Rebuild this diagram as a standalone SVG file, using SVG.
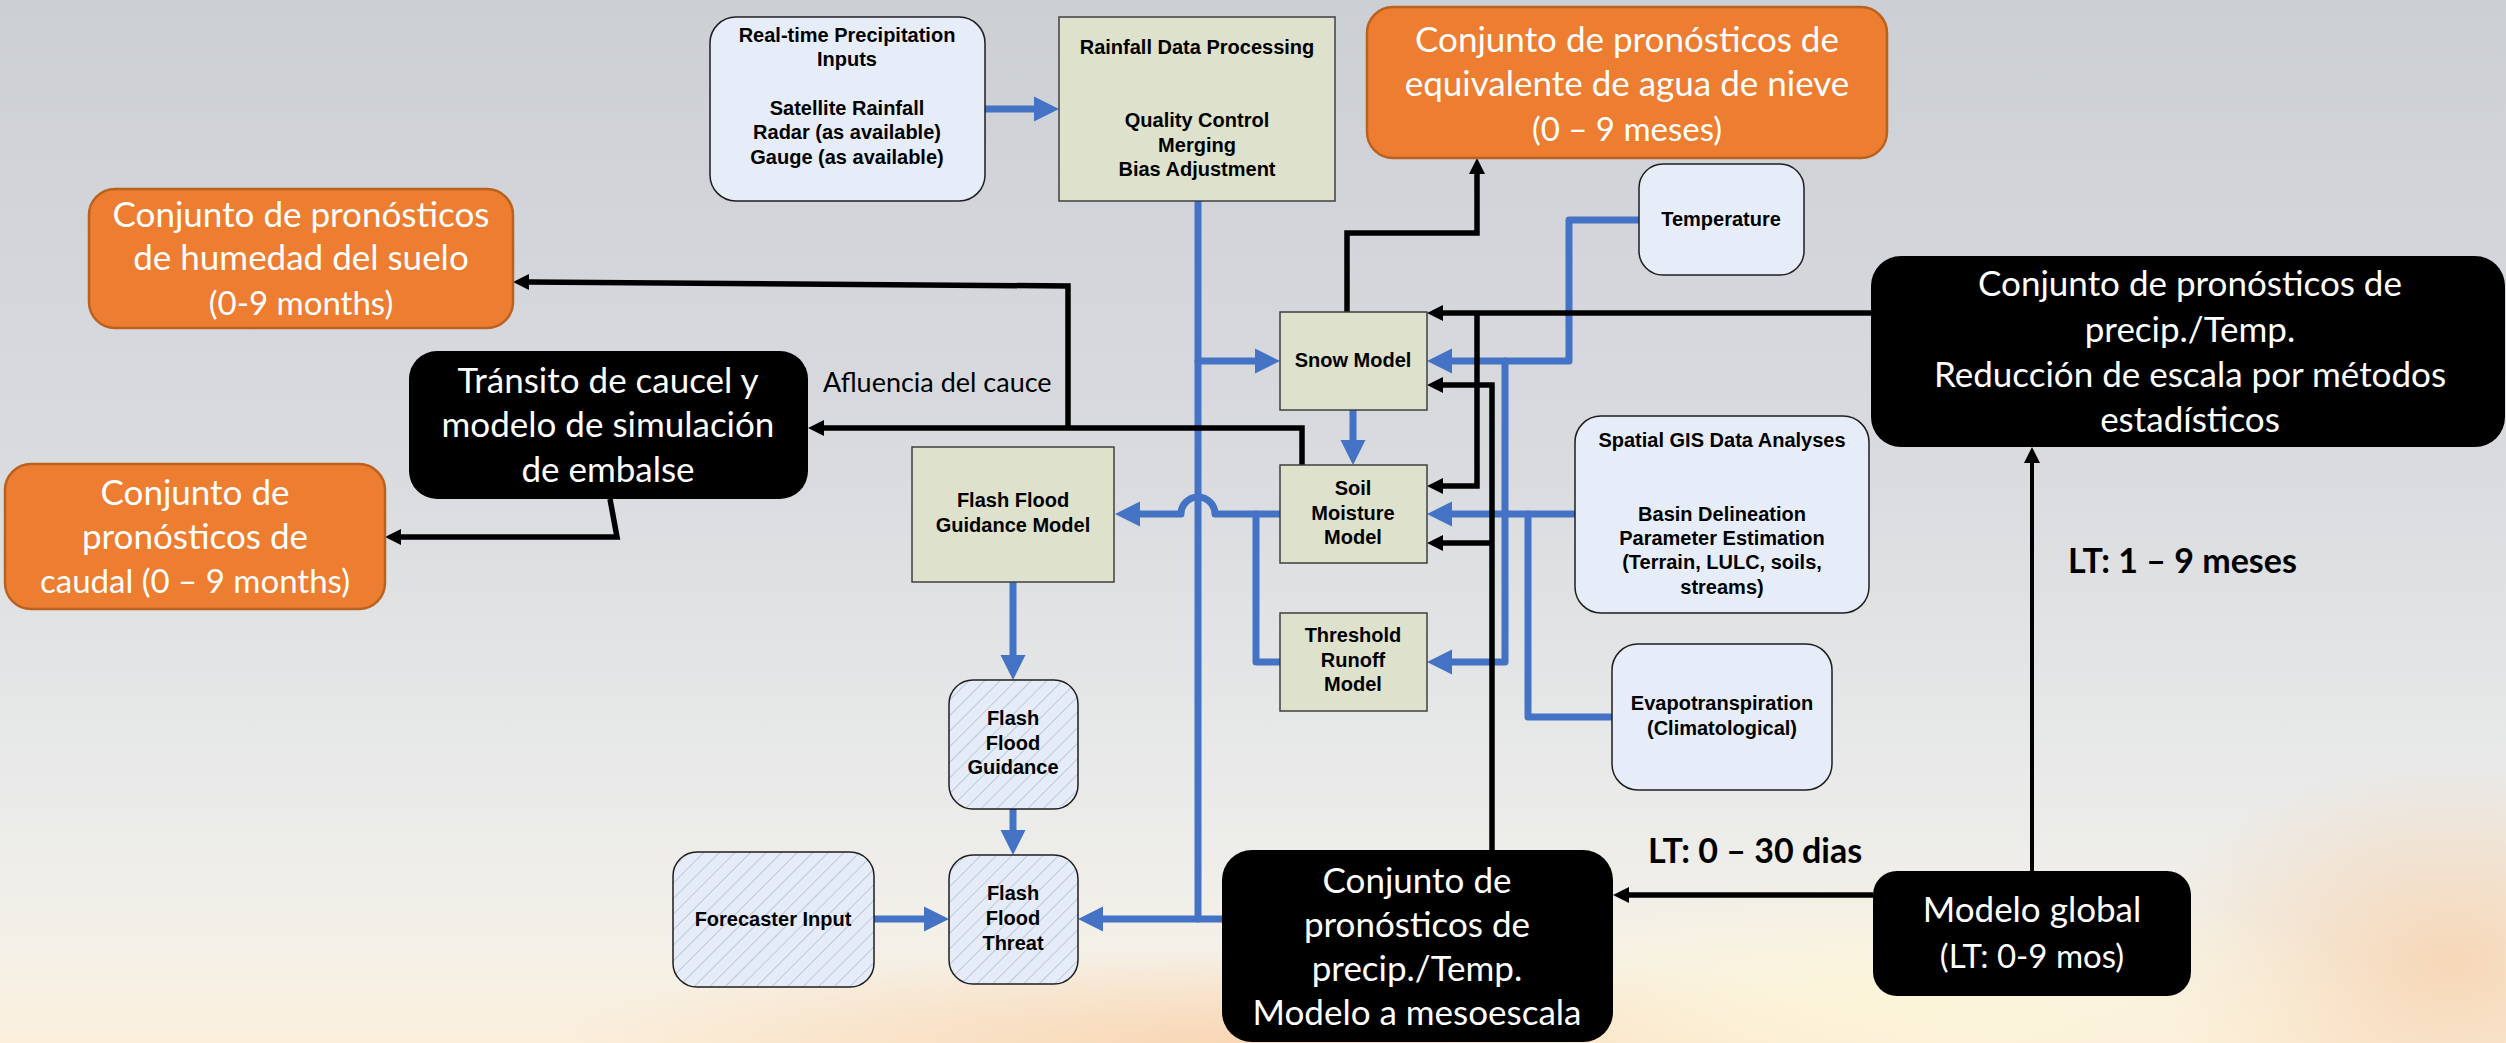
<svg xmlns="http://www.w3.org/2000/svg" width="2506" height="1043" viewBox="0 0 2506 1043">
<defs>
<linearGradient id="bg" x1="0" y1="0" x2="0" y2="1">
<stop offset="0" stop-color="#cccfd4"/>
<stop offset="0.45" stop-color="#d9dbdf"/>
<stop offset="0.75" stop-color="#e9eae9"/>
<stop offset="0.9" stop-color="#f3f0e8"/>
<stop offset="1" stop-color="#fbefdc"/>
</linearGradient>
<radialGradient id="glow1" cx="0.5" cy="0.5" r="0.5">
<stop offset="0" stop-color="#f7cfa8" stop-opacity="0.75"/>
<stop offset="1" stop-color="#f7cfa8" stop-opacity="0"/>
</radialGradient>
<radialGradient id="glow2" cx="0.5" cy="0.5" r="0.5">
<stop offset="0" stop-color="#fdf5d8" stop-opacity="0.9"/>
<stop offset="1" stop-color="#fdf5d8" stop-opacity="0"/>
</radialGradient>
<pattern id="hatch" patternUnits="userSpaceOnUse" width="11" height="11" patternTransform="rotate(45)">
<rect width="11" height="11" fill="#e6ecf7"/>
<line x1="0" y1="0" x2="0" y2="11" stroke="#a9b9d4" stroke-width="1.4"/>
</pattern>
<marker id="ab" markerUnits="userSpaceOnUse" viewBox="0 -13 26 26" markerWidth="26" markerHeight="26" refX="0" refY="0" orient="auto">
<path d="M0,-12.5 L25,0 L0,12.5 z" fill="#4472c4"/>
</marker>
<marker id="ak" markerUnits="userSpaceOnUse" viewBox="0 -9 17 18" markerWidth="17" markerHeight="18" refX="0" refY="0" orient="auto">
<path d="M0,-8 L16,0 L0,8 z" fill="#000"/>
</marker>
</defs>
<style>
.olive{fill:#dee2cd;stroke:#3f3f3f;stroke-width:1.5}
.lb{fill:#e7edf8;stroke:#1e1e1e;stroke-width:1.5}
.hb{fill:url(#hatch);stroke:#1e1e1e;stroke-width:1.5}
.or{fill:#ed7d31;stroke:#b9611f;stroke-width:2.5}
.bk{fill:#000}
.t{font-family:"Liberation Sans",Arial,sans-serif;font-weight:bold;font-size:20px;fill:#000;text-anchor:middle}
.w{font-family:Lato,"Liberation Sans",sans-serif;font-size:35px;fill:#fff;text-anchor:middle}
.n{font-size:33px}
.lab{font-family:Lato,"Liberation Sans",sans-serif;font-size:27px;fill:#000}
.lt{font-family:Lato,"Liberation Sans",sans-serif;font-size:34px;font-weight:bold;fill:#000}
.blue{fill:none;stroke:#4472c4;stroke-width:7;stroke-linecap:round;stroke-linejoin:round}
.blk{fill:none;stroke:#000;stroke-width:5.5;stroke-linejoin:miter}
</style>
<rect width="2506" height="1043" fill="url(#bg)"/>
<ellipse cx="1250" cy="1040" rx="700" ry="90" fill="url(#glow1)"/>
<ellipse cx="2450" cy="960" rx="300" ry="200" fill="url(#glow1)"/>
<ellipse cx="1900" cy="1000" rx="500" ry="120" fill="url(#glow2)"/>

<g id="connectors">
<path class="blue" d="M985,109 L1034,109" marker-end="url(#ab)"/>
<path class="blue" d="M1198,201 L1198,919"/>
<path class="blue" d="M1222,919 L1103,919" marker-end="url(#ab)"/>
<path class="blue" d="M1198,361 L1255,361" marker-end="url(#ab)"/>
<path class="blue" d="M1280,514 L1215,514 A17,17 0 0 0 1181,514 L1140,514" marker-end="url(#ab)"/>
<path class="blue" d="M1280,662 L1256,662 L1256,514"/>
<path class="blue" d="M1353,410 L1353,440" marker-end="url(#ab)"/>
<path class="blue" d="M1013,582 L1013,655" marker-end="url(#ab)"/>
<path class="blue" d="M1013,809 L1013,830" marker-end="url(#ab)"/>
<path class="blue" d="M874,919 L924,919" marker-end="url(#ab)"/>
<path class="blue" d="M1639,220 L1569,220 L1569,361 L1452,361" marker-end="url(#ab)"/>
<path class="blue" d="M1505,361 L1505,662 L1452,662" marker-end="url(#ab)"/>
<path class="blue" d="M1575,514 L1452,514" marker-end="url(#ab)"/>
<path class="blue" d="M1612,717 L1528,717 L1528,514"/>
<path class="blk" d="M1347,312 L1347,233 L1477,233 L1477,174" marker-end="url(#ak)"/>
<path class="blk" d="M1068,428 L1068,286 L529,282" marker-end="url(#ak)"/>
<path class="blk" d="M1302,465 L1302,428 L824,428" marker-end="url(#ak)"/>
<path class="blk" d="M610,499 L617,537 L401,537" marker-end="url(#ak)"/>
<path class="blk" d="M1871,313 L1443,313" marker-end="url(#ak)"/>
<path class="blk" d="M1477,313 L1477,486 L1443,486" marker-end="url(#ak)"/>
<path class="blk" d="M1492,850 L1492,385 L1443,385" marker-end="url(#ak)"/>
<path class="blk" d="M1492,543 L1443,543" marker-end="url(#ak)"/>
<path class="blk" style="stroke-width:4" d="M2032,871 L2032,463" marker-end="url(#ak)"/>
<path class="blk" d="M1873,895 L1629,895" marker-end="url(#ak)"/>
</g>

<g id="realtime">
<rect class="lb" x="710" y="17" width="275" height="184" rx="26"/>
<text class="t" x="847" y="42">Real-time Precipitation</text>
<text class="t" x="847" y="66">Inputs</text>
<text class="t" x="847" y="115">Satellite Rainfall</text>
<text class="t" x="847" y="139">Radar (as available)</text>
<text class="t" x="847" y="164">Gauge (as available)</text>
</g>
<g id="rainfall">
<rect class="olive" x="1059" y="17" width="276" height="184"/>
<text class="t" x="1197" y="54">Rainfall Data Processing</text>
<text class="t" x="1197" y="127">Quality Control</text>
<text class="t" x="1197" y="152">Merging</text>
<text class="t" x="1197" y="176">Bias Adjustment</text>
</g>
<g id="swe">
<rect class="or" x="1367" y="7" width="520" height="151" rx="26"/>
<text class="w" x="1627" y="52">Conjunto de pronósticos de</text>
<text class="w" x="1627" y="96">equivalente de agua de nieve</text>
<text class="w n" x="1627" y="141">(0 – 9 meses)</text>
</g>
<g id="soilfc">
<rect class="or" x="89" y="189" width="424" height="139" rx="26"/>
<text class="w" x="301" y="227">Conjunto de pronósticos</text>
<text class="w" x="301" y="270">de humedad del suelo</text>
<text class="w n" x="301" y="315">(0-9 months)</text>
</g>
<g id="transito">
<rect class="bk" x="409" y="351" width="399" height="148" rx="28"/>
<text class="w" x="608" y="393">Tránsito de caucel y</text>
<text class="w" x="608" y="437">modelo de simulación</text>
<text class="w" x="608" y="482">de embalse</text>
</g>
<g id="caudal">
<rect class="or" x="5" y="464" width="380" height="145" rx="26"/>
<text class="w" x="195" y="505">Conjunto de</text>
<text class="w" x="195" y="549">pronósticos de</text>
<text class="w n" x="195" y="593">caudal (0 – 9 months)</text>
</g>
<g id="ffgmodel">
<rect class="olive" x="912" y="447" width="202" height="135"/>
<text class="t" x="1013" y="507">Flash Flood</text>
<text class="t" x="1013" y="532">Guidance Model</text>
</g>
<g id="snow">
<rect class="olive" x="1280" y="312" width="147" height="98"/>
<text class="t" x="1353" y="367">Snow Model</text>
</g>
<g id="soil">
<rect class="olive" x="1280" y="465" width="147" height="98"/>
<text class="t" x="1353" y="495">Soil</text>
<text class="t" x="1353" y="520">Moisture</text>
<text class="t" x="1353" y="544">Model</text>
</g>
<g id="threshold">
<rect class="olive" x="1280" y="613" width="147" height="98"/>
<text class="t" x="1353" y="642">Threshold</text>
<text class="t" x="1353" y="667">Runoff</text>
<text class="t" x="1353" y="691">Model</text>
</g>
<g id="ffg">
<rect class="hb" x="949" y="680" width="129" height="129" rx="24"/>
<text class="t" x="1013" y="725">Flash</text>
<text class="t" x="1013" y="750">Flood</text>
<text class="t" x="1013" y="774">Guidance</text>
</g>
<g id="threat">
<rect class="hb" x="949" y="855" width="129" height="129" rx="24"/>
<text class="t" x="1013" y="900">Flash</text>
<text class="t" x="1013" y="925">Flood</text>
<text class="t" x="1013" y="950">Threat</text>
</g>
<g id="forecaster">
<rect class="hb" x="673" y="852" width="201" height="135" rx="24"/>
<text class="t" x="773" y="926">Forecaster Input</text>
</g>
<g id="temperature">
<rect class="lb" x="1639" y="164" width="165" height="111" rx="24"/>
<text class="t" x="1721" y="226">Temperature</text>
</g>
<g id="gis">
<rect class="lb" x="1575" y="416" width="294" height="197" rx="26"/>
<text class="t" x="1722" y="447">Spatial GIS Data Analyses</text>
<text class="t" x="1722" y="521">Basin Delineation</text>
<text class="t" x="1722" y="545">Parameter Estimation</text>
<text class="t" x="1722" y="569">(Terrain, LULC, soils,</text>
<text class="t" x="1722" y="594">streams)</text>
</g>
<g id="evapo">
<rect class="lb" x="1612" y="644" width="220" height="146" rx="26"/>
<text class="t" x="1722" y="710">Evapotranspiration</text>
<text class="t" x="1722" y="735">(Climatological)</text>
</g>
<g id="downscale">
<rect class="bk" x="1871" y="256" width="634" height="191" rx="30"/>
<text class="w" x="2190" y="296">Conjunto de pronósticos de</text>
<text class="w" x="2190" y="342">precip./Temp.</text>
<text class="w" x="2190" y="387">Reducción de escala por métodos</text>
<text class="w" x="2190" y="432">estadísticos</text>
</g>
<g id="meso">
<rect class="bk" x="1222" y="850" width="391" height="192" rx="30"/>
<text class="w" x="1417" y="893">Conjunto de</text>
<text class="w" x="1417" y="937">pronósticos de</text>
<text class="w" x="1417" y="981">precip./Temp.</text>
<text class="w" x="1417" y="1025">Modelo a mesoescala</text>
</g>
<g id="global">
<rect class="bk" x="1873" y="871" width="318" height="125" rx="24"/>
<text class="w" x="2032" y="922">Modelo global</text>
<text class="w n" x="2032" y="968">(LT: 0-9 mos)</text>
</g>
<g id="labels">
<text class="lab" x="823" y="392">Afluencia del cauce</text>
<text class="lt" x="2068" y="573">LT: 1 – 9 meses</text>
<text class="lt" x="1648" y="863">LT: 0 – 30 dias</text>
</g>
</svg>
